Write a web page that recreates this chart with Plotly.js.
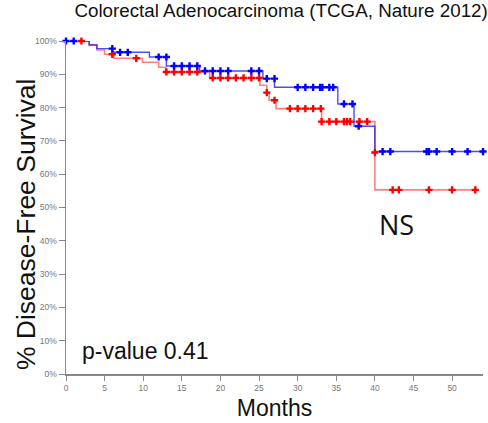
<!DOCTYPE html>
<html>
<head>
<meta charset="utf-8">
<script src="https://cdn.plot.ly/plotly-3.0.1.min.js"></script>
<style>html,body{margin:0;padding:0;background:#fff;}#chart{width:488px;height:423px;}</style>
</head>
<body>
<div id="chart"></div>
<script>
// Blue group: Kaplan-Meier steps (months, % disease-free)
var blueTimes = [0, 3, 4, 6, 10.8, 13, 17.3, 25.5, 27, 35.2, 37.3, 40, 54];
var blueSurv  = [100, 98.8, 97.7, 96.6, 95.2, 92.5, 91.0, 88.7, 86.1, 81.1, 74.4, 66.8, 66.8];
// Blue censored observations
var blueCensTimes = [0, 1, 6, 7, 8, 12, 13, 14, 15, 16, 17, 18, 19, 20, 21, 24, 25, 26, 27, 30, 31, 32, 32.9, 33.2, 34.1, 34.6, 36, 37.1, 37.9, 41, 42, 46.7, 47, 48, 50, 52, 54];
var blueCensSurv  = [100, 100, 97.7, 96.6, 96.6, 95.2, 95.2, 92.5, 92.5, 92.5, 92.5, 91, 91, 91, 91, 91, 91, 88.7, 88.7, 86.1, 86.1, 86.1, 86.1, 86.1, 86.1, 86.1, 81.1, 81.1, 74.4, 66.8, 66.8, 66.8, 66.8, 66.8, 66.8, 66.8, 66.8];

// Red group
var redTimes = [0, 3, 4, 5, 6.2, 9.9, 12, 12.9, 18.6, 25.1, 26.0, 26.3, 27.2, 33.1, 40, 53];
var redSurv  = [100, 98.8, 97.3, 96.0, 94.8, 93.6, 92.1, 90.7, 88.9, 86.7, 84.5, 82.2, 79.7, 75.8, 55.3, 55.3];
var redCensTimes = [2, 6, 9.1, 13, 14, 15, 16, 17, 19, 20, 21, 22, 23, 24, 25, 26, 27, 29, 30, 31, 32, 33, 33.1, 34.1, 35, 36, 36.4, 36.8, 38, 39, 40, 42.3, 43.1, 47, 50, 53];
var redCensSurv  = [100, 96.0, 94.8, 90.7, 90.7, 90.7, 90.7, 90.7, 88.9, 88.9, 88.9, 88.9, 88.9, 88.9, 88.9, 84.5, 82.2, 79.7, 79.7, 79.7, 79.7, 79.7, 75.8, 75.8, 75.8, 75.8, 75.8, 75.8, 75.8, 75.8, 66.5, 55.3, 55.3, 55.3, 55.3, 55.3];

var xTicks = [0, 5, 10, 15, 20, 25, 30, 35, 40, 45, 50];
var yTicks = [0, 10, 20, 30, 40, 50, 60, 70, 80, 90, 100];
var yTickText = yTicks.map(function(v){ return v + '%'; });

var titleText = 'Colorectal Adenocarcinoma (TCGA, Nature 2012)';
var xTitle = 'Months';
var yTitle = '% Disease-Free Survival';
var pText = 'p-value 0.41';
var nsText = 'NS';

var traces = [
  {x: redTimes, y: redSurv, mode: 'lines', line: {shape: 'hv', color: 'rgba(255,0,0,0.5)', width: 1.6}, hoverinfo: 'skip', cliponaxis: false},
  {x: blueTimes, y: blueSurv, mode: 'lines', line: {shape: 'hv', color: 'rgba(0,0,255,0.7)', width: 1.4}, hoverinfo: 'skip', cliponaxis: false},
  {x: redCensTimes, y: redCensSurv, mode: 'markers', marker: {symbol: 'cross', size: 6, color: '#ff0000'}, cliponaxis: false},
  {x: blueCensTimes, y: blueCensSurv, mode: 'markers', marker: {symbol: 'cross', size: 6, color: '#0000ff'}, cliponaxis: false}
];

var layout = {
  width: 488, height: 423,
  margin: {l: 66, r: 5, t: 41, b: 49},
  showlegend: false,
  paper_bgcolor: '#fff', plot_bgcolor: '#fff',
  font: {family: 'Liberation Sans, Arial, sans-serif', color: '#000'},
  title: {text: titleText, font: {size: 18.8, family: 'Liberation Sans, Arial, sans-serif', color: '#111'}, x: 0.576, xanchor: 'center', y: 0.975, yanchor: 'middle'},
  xaxis: {
    range: [0, 54], tickvals: xTicks, ticktext: xTicks.map(String),
    showgrid: false, zeroline: false, showline: true, linecolor: '#888', linewidth: 1.5,
    ticks: 'outside', ticklen: 5, tickwidth: 1, tickcolor: '#888',
    tickfont: {size: 8.5, color: '#777'},
    title: {text: xTitle, font: {size: 23, color: '#111'}, standoff: 8}
  },
  yaxis: {
    range: [0, 100], tickvals: yTicks, ticktext: yTickText,
    showgrid: false, zeroline: false, showline: true, linecolor: '#888', linewidth: 1.5,
    ticks: 'outside', ticklen: 6, tickwidth: 1, tickcolor: '#888',
    tickfont: {size: 8.5, color: '#777'}
  },
  annotations: [
    {x: -0.096, y: 0.45, xref: 'paper', yref: 'paper', text: yTitle, textangle: -90, showarrow: false, xanchor: 'center', yanchor: 'middle', font: {size: 26.5, color: '#111'}},
    {x: 1.8, y: 7, xref: 'x', yref: 'y', text: pText, showarrow: false, xanchor: 'left', yanchor: 'middle', font: {size: 23, color: '#111'}},
    {x: 40.3, y: 45, xref: 'x', yref: 'y', text: nsText, showarrow: false, xanchor: 'left', yanchor: 'middle', font: {size: 27, color: '#111', family: 'Open Sans, sans-serif'}}
  ]
};

Plotly.newPlot('chart', traces, layout, {displayModeBar: false, staticPlot: true});
</script>
</body>
</html>
